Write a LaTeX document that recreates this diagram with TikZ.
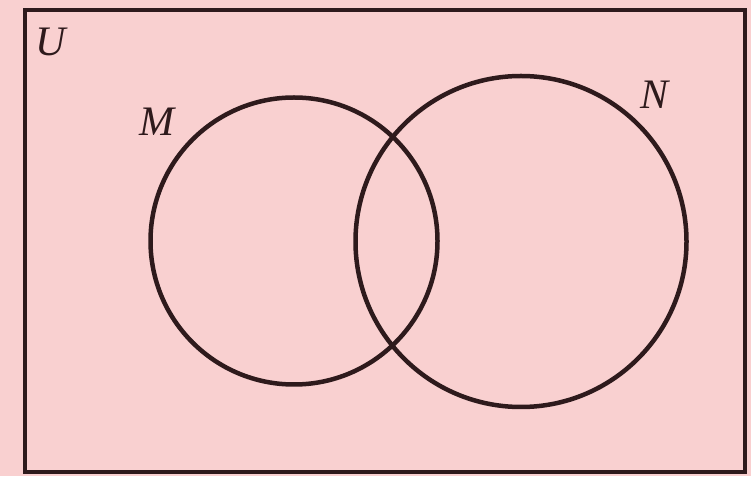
\documentclass[tikz,border=0pt]{standalone}
\usepackage{fontspec}
\setmainfont{Liberation Serif}
\definecolor{bgpink}{HTML}{F9D0D0}
\definecolor{ink}{HTML}{2E1A1C}
\begin{document}
\begin{tikzpicture}[x=1pt,y=1pt,
  setcircle/.style={circle,draw=ink,line width=4.5pt,inner sep=0pt},
  setlabel/.style={text=ink,font=\fontsize{42}{44}\selectfont\itshape,inner sep=0pt}]
\fill[bgpink] (0,0) rectangle (751,476);
\useasboundingbox (0,0) rectangle (751,476);
\node[draw=ink,line width=4pt,minimum width=720pt,minimum height=462pt,inner sep=0pt] (U) at (385,235) {};
\node[setcircle,minimum size=287pt] (M) at (294,235) {};
\node[setcircle,minimum size=331pt] (N) at (521,234.5) {};
\node[setlabel] (Ul) at (51,434) {U};
\node[setlabel] (Ml) at (157,354) {M};
\node[setlabel] (Nl) at (654,381) {N};
\end{tikzpicture}
\end{document}
